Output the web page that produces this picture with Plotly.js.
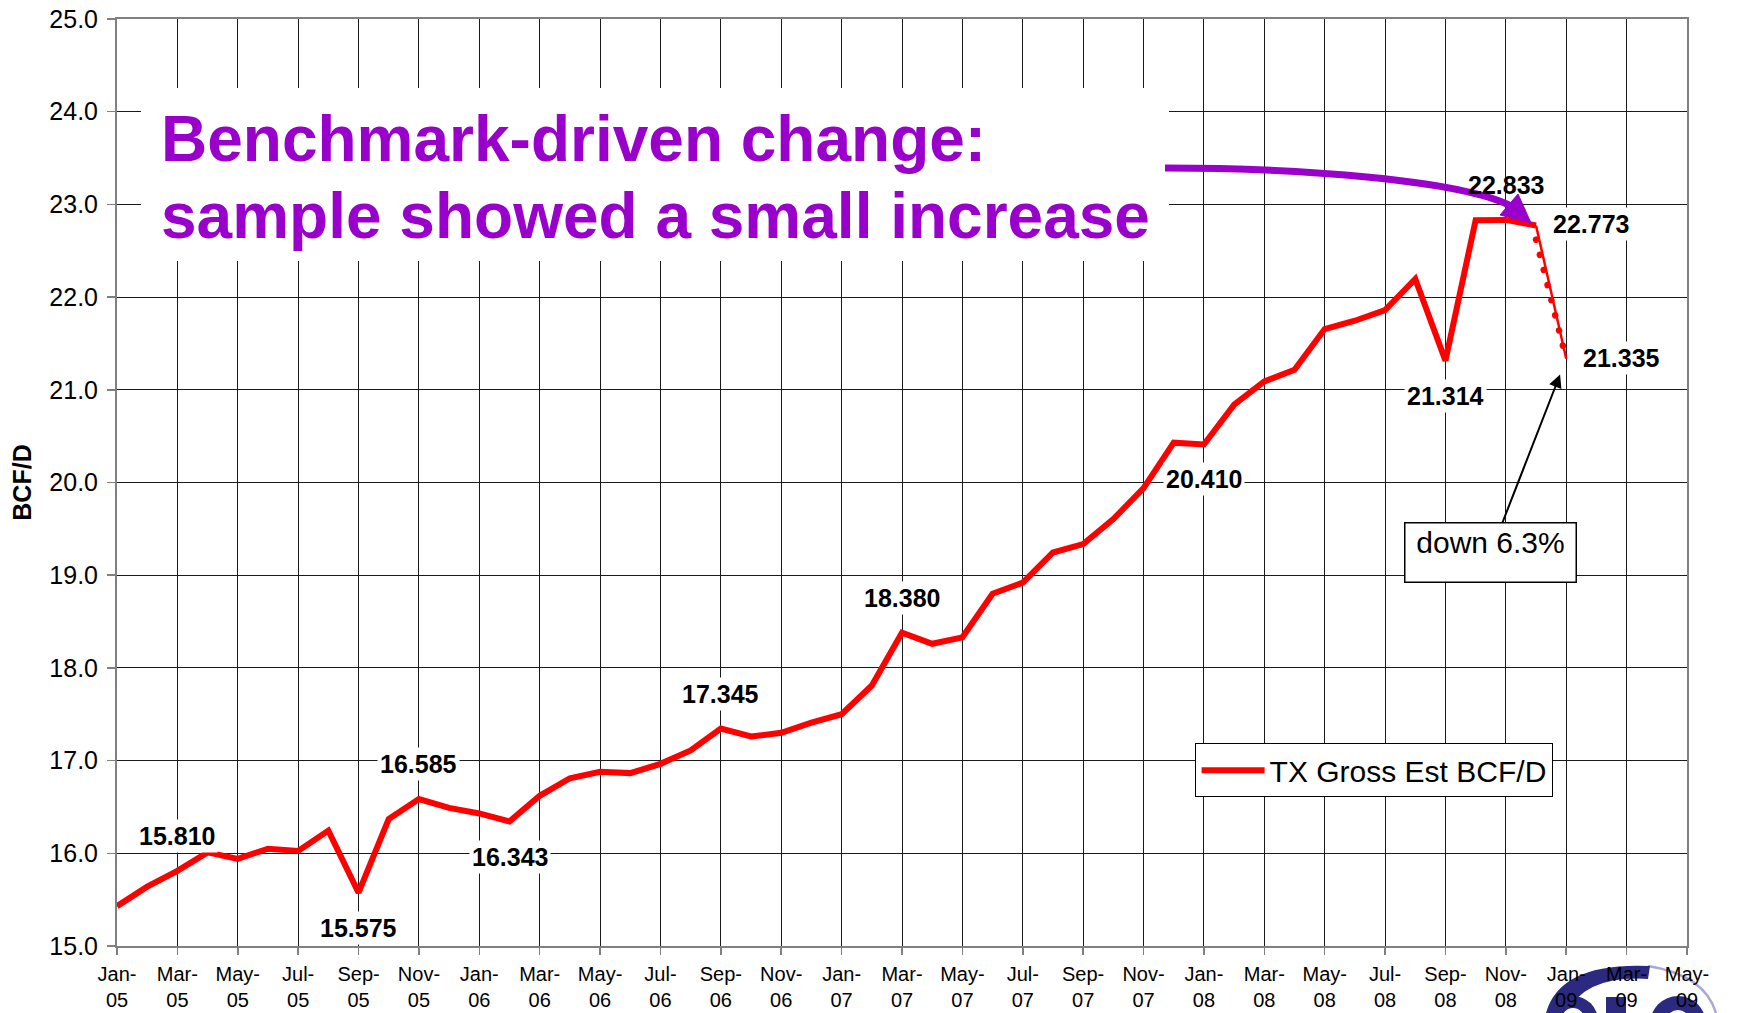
<!DOCTYPE html>
<html><head><meta charset="utf-8">
<script src="https://cdn.plot.ly/plotly-3.0.1.min.js"></script>
<style>html,body{margin:0;padding:0;background:#fff;} #chart{width:1742px;height:1013px;}</style>
</head><body><div id="chart"></div>
<script>
// ---- data ----
const months = ['Jan-05','Feb-05','Mar-05','Apr-05','May-05','Jun-05','Jul-05','Aug-05','Sep-05','Oct-05','Nov-05','Dec-05',
  'Jan-06','Feb-06','Mar-06','Apr-06','May-06','Jun-06','Jul-06','Aug-06','Sep-06','Oct-06','Nov-06','Dec-06',
  'Jan-07','Feb-07','Mar-07','Apr-07','May-07','Jun-07','Jul-07','Aug-07','Sep-07','Oct-07','Nov-07','Dec-07',
  'Jan-08','Feb-08','Mar-08','Apr-08','May-08','Jun-08','Jul-08','Aug-08','Sep-08','Oct-08','Nov-08','Dec-08',
  'Jan-09','Feb-09','Mar-09','Apr-09','May-09'];
// TX Gross Est BCF/D, Jan-05 .. Dec-08
const txGross = [15.43,15.64,15.81,16.01,15.94,16.05,16.025,16.245,15.575,16.37,16.585,16.49,
  16.43,16.343,16.62,16.81,16.88,16.865,16.965,17.11,17.345,17.26,17.30,17.41,
  17.50,17.81,18.38,18.26,18.33,18.80,18.92,19.245,19.335,19.605,19.94,20.43,
  20.41,20.84,21.09,21.215,21.655,21.745,21.86,22.195,21.314,22.83,22.833,22.773];
// Jan-09 estimate
const janEstimateMonths = ['Dec-08','Jan-09'];
const janEstimate = [22.773, 21.335];
// sample-based (dotted) path
const dottedMonths = ['Dec-08','Jan-09'];
const dottedValues = [22.62, 21.335];
// tick months (every 2 months)
const tickMonths = ['Jan-05','Mar-05','May-05','Jul-05','Sep-05','Nov-05','Jan-06','Mar-06','May-06','Jul-06','Sep-06','Nov-06',
  'Jan-07','Mar-07','May-07','Jul-07','Sep-07','Nov-07','Jan-08','Mar-08','May-08','Jul-08','Sep-08','Nov-08',
  'Jan-09','Mar-09','May-09'];
const tickLabels = tickMonths.map(m => m.replace('-', '-<br>'));
const yTicks = [15,16,17,18,19,20,21,22,23,24,25];
// labelled points
const labelMonths = ['Mar-05','Sep-05','Nov-05','Feb-06','Sep-06','Mar-07','Jan-08','Sep-08','Nov-08','Dec-08','Jan-09'];
const labelSide = ['above','below','above','below','above','above','below','below','above','right','right'];

// ---- layout helpers ----
const W = 1742, H = 1013, L = 117, R = 55, T = 19, B = 67;
const pw = W - L - R, ph = H - T - B;
const fx = px => (px - L) / pw;
const fy = py => (H - B - py) / ph;
const FONT = 'Liberation Sans, Arial, sans-serif';

const allMonths = months.slice(0, 48).concat(['Jan-09']);
const allValues = txGross.concat([janEstimate[1]]);
const valueOf = m => allValues[allMonths.indexOf(m)];

const traces = [
  {x: months, y: months.map(() => null), mode: 'lines', showlegend: false, hoverinfo: 'skip'},
  {x: dottedMonths, y: dottedValues, mode: 'lines', showlegend: false, hoverinfo: 'skip',
   line: {color: '#FF0000', width: 6.5, dash: '1px,15px'}},
  {x: janEstimateMonths, y: janEstimate, mode: 'lines', showlegend: false, hoverinfo: 'skip',
   line: {color: '#FF0000', width: 2.5}},
  {x: months.slice(0, 48), y: txGross, mode: 'lines', name: 'TX Gross Est BCF/D',
   line: {color: '#FF0000', width: 6}}
];

const annotations = labelMonths.map((m, i) => {
  const side = labelSide[i];
  const v = valueOf(m);
  return {
    x: m, y: v, xref: 'x', yref: 'y', text: v.toFixed(3), showarrow: false,
    font: {family: FONT, size: 25, color: '#000', weight: 'bold'},
    bgcolor: m === 'Nov-08' ? 'rgba(0,0,0,0)' : '#fff', borderpad: 2,
    xanchor: 'center', yanchor: 'middle',
    xshift: side === 'right' ? 55 : 0,
    yshift: side === 'above' ? 35 : (side === 'below' ? -35 : 1)
  };
});

// purple headline
annotations.push({xref: 'paper', yref: 'paper', x: fx(158.5), y: fy(138.7), xanchor: 'left', yanchor: 'middle',
  text: '<b>Benchmark-driven change:</b>', showarrow: false, font: {family: FONT, size: 64, color: '#9900CC'}});
annotations.push({xref: 'paper', yref: 'paper', x: fx(158.5), y: fy(215.7), xanchor: 'left', yanchor: 'middle',
  text: '<b>sample showed a small increase</b>', showarrow: false, font: {family: FONT, size: 64, color: '#9900CC'}});

// down 6.3% callout
annotations.push({x: 'Jan-09', y: janEstimate[1], xref: 'x', yref: 'y', text: 'down 6.3%',
  showarrow: true, ax: -75.5, ay: 194, axref: 'pixel', ayref: 'pixel', standoff: 17,
  arrowhead: 2, arrowsize: 1.3, arrowwidth: 2, arrowcolor: '#000',
  font: {family: FONT, size: 30, color: '#000'}, bgcolor: '#fff', bordercolor: '#000', borderwidth: 1.5,
  borderpad: 2, width: 166, height: 54, valign: 'top'});

const pt = (x, y) => fx(x).toFixed(5) + ',' + fy(y).toFixed(5);
const LOGO_NAVY = '#2B2A80';
const shapes = [
  {type: 'rect', xref: 'paper', yref: 'paper', x0: fx(141), x1: fx(1169), y0: fy(261), y1: fy(88),
   fillcolor: '#fff', line: {width: 0}, layer: 'above'},
  {type: 'path', xref: 'paper', yref: 'paper', layer: 'above',
   path: 'M' + pt(1165, 168) + ' C' + pt(1300, 168) + ' ' + pt(1460, 180) + ' ' + pt(1511, 206),
   line: {color: '#9900CC', width: 7}},
  {type: 'path', xref: 'paper', yref: 'paper', layer: 'above',
   path: 'M' + pt(1531, 223) + ' L' + pt(1518, 194) + ' L' + pt(1500, 215) + ' Z',
   fillcolor: '#9900CC', line: {color: '#9900CC', width: 1}},
  // partial agency logo, bottom right
  {type: 'path', xref: 'paper', yref: 'paper', layer: 'below',
   path: 'M' + pt(1716, 1013) + ' Q' + pt(1705, 975) + ' ' + pt(1648, 966),
   line: {color: '#A9A9D6', width: 2.5}},
  {type: 'path', xref: 'paper', yref: 'paper', layer: 'below',
   path: 'M' + pt(1546, 1013) + ' Q' + pt(1560, 962) + ' ' + pt(1650, 966) +
         ' L' + pt(1648, 979) + ' Q' + pt(1585, 975) + ' ' + pt(1567, 1013) + ' Z',
   fillcolor: LOGO_NAVY, line: {width: 0}},
  {type: 'circle', xref: 'paper', yref: 'paper', layer: 'below',
   x0: fx(1548), x1: fx(1598), y0: fy(1046), y1: fy(996), fillcolor: LOGO_NAVY, line: {width: 0}},
  {type: 'circle', xref: 'paper', yref: 'paper', layer: 'below',
   x0: fx(1562), x1: fx(1584), y0: fy(1030), y1: fy(1008), fillcolor: '#fff', line: {width: 0}},
  {type: 'rect', xref: 'paper', yref: 'paper', layer: 'below',
   x0: fx(1606), x1: fx(1626), y0: fy(1013), y1: fy(997), fillcolor: LOGO_NAVY, line: {width: 0}},
  {type: 'circle', xref: 'paper', yref: 'paper', layer: 'below',
   x0: fx(1650), x1: fx(1706), y0: fy(1052), y1: fy(996), fillcolor: LOGO_NAVY, line: {width: 0}},
  {type: 'circle', xref: 'paper', yref: 'paper', layer: 'below',
   x0: fx(1666), x1: fx(1690), y0: fy(1034), y1: fy(1010), fillcolor: '#fff', line: {width: 0}}
];

const layout = {
  width: W, height: H,
  margin: {l: L, r: R, t: T, b: B, pad: 0},
  paper_bgcolor: '#fff', plot_bgcolor: '#fff',
  font: {family: FONT, color: '#000'},
  showlegend: true,
  hovermode: false,
  xaxis: {
    type: 'category', categoryorder: 'array', categoryarray: months, range: [0, 52],
    tickmode: 'array', tickvals: tickMonths, ticktext: tickLabels,
    tickfont: {family: FONT, size: 20, color: '#000'}, tickangle: 0, ticklabelstandoff: 2,
    showgrid: true, gridcolor: '#1a1a1a', gridwidth: 1,
    showline: true, linecolor: '#808080', linewidth: 2, mirror: true,
    ticks: 'outside', ticklen: 7, tickcolor: '#808080', tickwidth: 1.5,
    zeroline: false, fixedrange: true, automargin: false
  },
  yaxis: {
    range: [15, 25], tickmode: 'array', tickvals: yTicks, ticktext: yTicks.map(v => v.toFixed(1)),
    tickfont: {family: FONT, size: 25, color: '#000'},
    showgrid: true, gridcolor: '#1a1a1a', gridwidth: 1,
    showline: true, linecolor: '#808080', linewidth: 2, mirror: true,
    ticks: 'outside', ticklen: 8, tickcolor: '#808080', tickwidth: 1.5, ticklabelstandoff: 4,
    zeroline: false, fixedrange: true, automargin: false,
    title: {text: '<b>BCF/D</b>', font: {family: FONT, size: 25, color: '#000'}, standoff: 11}
  },
  legend: {x: fx(1194.6), y: fy(743.3), xanchor: 'left', yanchor: 'top',
    bgcolor: '#fff', bordercolor: '#000', borderwidth: 1,
    font: {family: FONT, size: 30, color: '#000'}, itemwidth: 64},
  annotations: annotations,
  shapes: shapes
};

Plotly.newPlot('chart', traces, layout, {displayModeBar: false, staticPlot: true}).then(gd => {
  // round dots for the sample-based segment
  gd.querySelectorAll('.scatterlayer path.js-line').forEach(p => {
    if (parseFloat(p.style.strokeWidth) === 6.5) {
      p.style.strokeLinecap = 'round';
      p.style.strokeDasharray = '0.1px,15.5px';
    }
  });
  // longer legend line sample
  const lp = gd.querySelector('.legend .legendlines path');
  if (lp) lp.setAttribute('d', 'M6,0h63');
});
</script>
</body></html>
